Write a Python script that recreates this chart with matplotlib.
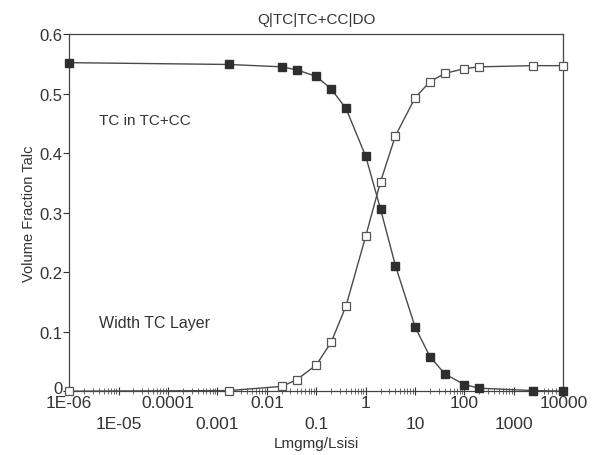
import numpy as np
import matplotlib
matplotlib.use("Agg")
import matplotlib.pyplot as plt
import matplotlib.transforms as mtransforms
from matplotlib.ticker import FixedLocator, LogLocator, NullFormatter

plt.rcParams['font.family'] = ['Liberation Sans', 'DejaVu Sans']

# Data
ratio = [1e-6, 0.0017, 0.02, 0.04, 0.1, 0.2, 0.4, 1, 2, 4, 10, 20, 40, 100, 200, 2400, 10000]
tc_in_tccc = [0.552, 0.549, 0.545, 0.540, 0.529, 0.508, 0.475, 0.395, 0.306, 0.211,
              0.108, 0.058, 0.029, 0.011, 0.005, 0.001, 0.0]
width_tc = [0.0, 0.001, 0.008, 0.019, 0.044, 0.082, 0.143, 0.260, 0.352, 0.429,
            0.493, 0.520, 0.534, 0.542, 0.545, 0.547, 0.547]

xtick_vals = [1e-6, 1e-5, 1e-4, 1e-3, 1e-2, 1e-1, 1, 10, 100, 1000, 10000]
xtick_text = ["1E-06", "1E-05", "0.0001", "0.001", "0.01", "0.1", "1", "10", "100", "1000", "10000"]
ytick_vals = [0, 0.1, 0.2, 0.3, 0.4, 0.5, 0.6]
ytick_text = ["0", "0.1", "0.2", "0.3", "0.4", "0.5", "0.6"]

fig = plt.figure(figsize=(6.07, 4.56), dpi=100)
ax = fig.add_axes([0.114, 0.140, 0.814, 0.783])

line_col = "#4a4a4a"
ax.plot(ratio, tc_in_tccc, '-', color=line_col, lw=1.0, marker='s', ms=5.3,
        mfc='#2e2e2e', mec='#2e2e2e', clip_on=False, zorder=3)
ax.plot(ratio, width_tc, '-', color=line_col, lw=1.0, marker='s', ms=5.3,
        mfc='white', mec='#555555', mew=0.9, clip_on=False, zorder=3)

ax.set_xscale('log')
ax.set_xlim(1e-6, 1e4)
ax.set_ylim(0, 0.6)

ax.xaxis.set_major_locator(FixedLocator(xtick_vals))
labels = [t if i % 2 == 0 else "\n" + t for i, t in enumerate(xtick_text)]
ax.set_xticklabels(labels, linespacing=1.45)
ax.xaxis.set_minor_locator(LogLocator(base=10, subs=np.arange(2, 10), numticks=100))
ax.xaxis.set_minor_formatter(NullFormatter())
ax.set_yticks(ytick_vals)
ax.set_yticklabels(ytick_text)

ax.tick_params(axis='x', which='major', direction='inout', length=6, width=0.8,
               labelsize=12.5, pad=0, colors='#333333')
ax.tick_params(axis='x', which='minor', direction='inout', length=4, width=0.6, colors='#555555')
ax.tick_params(axis='y', which='major', direction='out', length=4, width=0.8,
               labelsize=12, pad=1, colors='#333333')
for sp in ax.spines.values():
    sp.set_color('#444444')
    sp.set_linewidth(0.9)

# nudge the y "0" label up slightly so it doesn't collide with "1E-06"
lbl0 = ax.get_yticklabels()[0]
lbl0.set_transform(lbl0.get_transform() + mtransforms.ScaledTranslation(0, 3 / 72, fig.dpi_scale_trans))

ax.set_title("Q|TC|TC+CC|DO", fontsize=11, color='#333333', pad=8)
ax.set_ylabel("Volume Fraction Talc", fontsize=10.5, color='#333333', labelpad=2)
ax.set_xlabel("Lmgmg/Lsisi", fontsize=11, color='#333333', labelpad=4)

ax.text(4e-6, 0.455, "TC in TC+CC", fontsize=11, color='#333333', va='center')
ax.text(4e-6, 0.115, "Width TC Layer", fontsize=11.5, color='#333333', va='center')

fig.savefig("out.png", dpi=100)
